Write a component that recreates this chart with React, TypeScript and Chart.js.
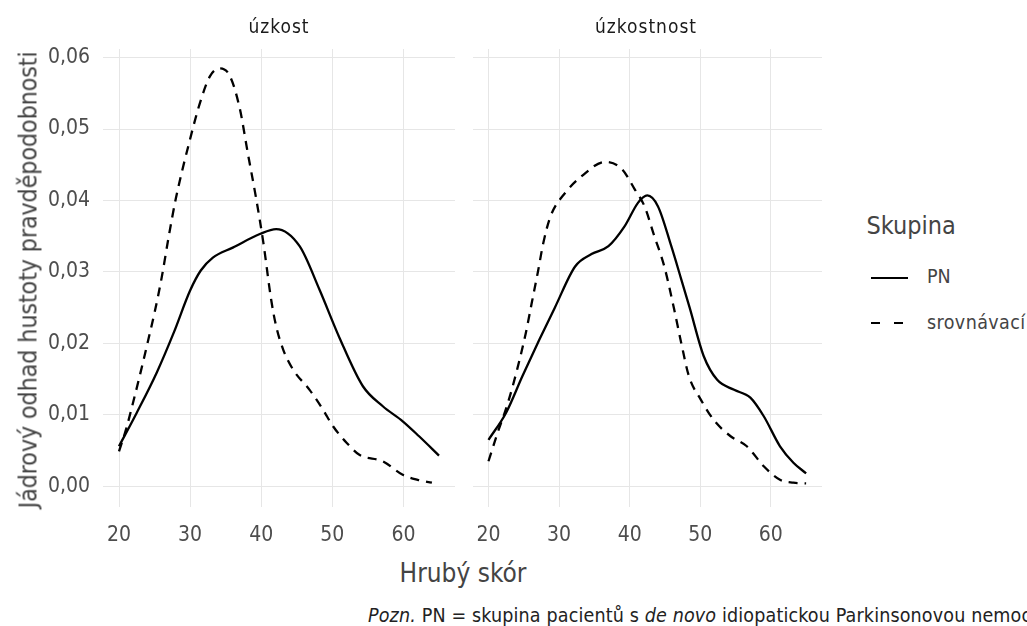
import React, { useEffect, useRef } from "react";
import { Chart, registerables } from "chart.js";

Chart.register(...registerables);

const FONT = "'Liberation Sans Narrow', 'DejaVu Sans Condensed', 'Roboto', sans-serif";

// ---- data ----
const xTicks = [20, 30, 40, 50, 60];
const yTicks = [0, 0.01, 0.02, 0.03, 0.04, 0.05, 0.06];

const panelTitles = ["úzkost", "úzkostnost"];
const seriesNames = ["PN", "srovnávací"];

// úzkost – PN
const uzPNx = [20, 22.5, 25.3, 27.7, 30.0, 31.5, 33.2, 36.0, 39.8, 42.1, 45.4, 48.2, 51.0, 54.3, 57.1, 59.9, 62.2, 65];
const uzPNy = [0.0056, 0.0103, 0.0159, 0.0215, 0.0274, 0.0302, 0.0320, 0.0334, 0.0353, 0.0360, 0.0336, 0.0275, 0.0208, 0.0140, 0.0112, 0.0091, 0.0070, 0.0043];
// úzkost – srovnávací
const uzSRx = [20, 21, 22, 23, 24, 25, 26, 27, 28, 30.0, 31.4, 32.8, 34.2, 35.6, 37.0, 38.1, 39.3, 40.3, 41.4, 42.1, 43.1, 44.5, 46.8, 48.7, 50.1, 52.0, 53.8, 57.1, 59.9, 62.0, 64.0];
const uzSRy = [0.0049, 0.0080, 0.0118, 0.0158, 0.0200, 0.0243, 0.0292, 0.0350, 0.0403, 0.0486, 0.0537, 0.0574, 0.0585, 0.0574, 0.0528, 0.0467, 0.0402, 0.0341, 0.0261, 0.0224, 0.0191, 0.0163, 0.0135, 0.0107, 0.0084, 0.0061, 0.0044, 0.0035, 0.0016, 0.0009, 0.0005];
// úzkostnost – PN
const uznPNx = [20, 22.5, 24.8, 27.2, 29.4, 32.3, 34.6, 37.0, 39.3, 41.2, 42.5, 44.0, 45.9, 47.3, 48.5, 50.5, 52.4, 54.8, 57.1, 59.0, 61.3, 63.2, 65];
const uznPNy = [0.0065, 0.0103, 0.0154, 0.0205, 0.0250, 0.0308, 0.0325, 0.0336, 0.0364, 0.0397, 0.0407, 0.0392, 0.0336, 0.0290, 0.0250, 0.0182, 0.0149, 0.0135, 0.0124, 0.0098, 0.0056, 0.0033, 0.0018];
// úzkostnost – srovnávací
const uznSRx = [20, 21.3, 22.7, 24.1, 25.3, 26.1, 27.0, 27.8, 28.8, 30.9, 33.2, 36.5, 38.9, 40.7, 42.1, 43.5, 44.9, 46.3, 47.3, 48.4, 50.1, 51.9, 54.3, 56.6, 59.0, 61.3, 63.2, 65];
const uznSRy = [0.0035, 0.0075, 0.0115, 0.0165, 0.0215, 0.0255, 0.0300, 0.0342, 0.0378, 0.0411, 0.0434, 0.0454, 0.0444, 0.0416, 0.0392, 0.0350, 0.0308, 0.0248, 0.0201, 0.0154, 0.0121, 0.0093, 0.0070, 0.0056, 0.0028, 0.0009, 0.0005, 0.0004];

const TICK_COLOR = "#4d4d4d";
const GRID_COLOR = "#e6e6e6";

function pts(xs: number[], ys: number[]) {
  return xs.map((x, i) => ({ x, y: ys[i] }));
}

function makeConfig(
  pn: { x: number; y: number }[],
  sr: { x: number; y: number }[],
  showY: boolean
): any {
  return {
    type: "line",
    data: {
      datasets: [
        {
          label: seriesNames[0],
          data: pn,
          borderColor: "#000",
          borderWidth: 2.3,
          pointRadius: 0,
          fill: false,
          cubicInterpolationMode: "monotone",
        },
        {
          label: seriesNames[1],
          data: sr,
          borderColor: "#000",
          borderWidth: 2.3,
          borderDash: [9, 7],
          pointRadius: 0,
          fill: false,
          cubicInterpolationMode: "monotone",
        },
      ],
    },
    options: {
      responsive: false,
      animation: false,
      devicePixelRatio: 1,
      layout: { padding: { top: 49, right: showY ? 5 : 0, left: 0, bottom: 0 } },
      plugins: { legend: { display: false }, tooltip: { enabled: false }, title: { display: false } },
      scales: {
        x: {
          type: "linear",
          min: 17.75,
          max: 67.25,
          afterBuildTicks: (s: any) => {
            s.ticks = xTicks.map((v) => ({ value: v }));
          },
          afterFit: (s: any) => {
            s.height = 39;
          },
          grid: { color: GRID_COLOR, lineWidth: 1, drawTicks: false },
          border: { display: false },
          ticks: {
            color: TICK_COLOR,
            font: { family: FONT, size: 21 },
            padding: 16,
            maxRotation: 0,
            autoSkip: false,
            callback: (v: any) => String(v),
          },
        },
        y: {
          type: "linear",
          min: -0.0029,
          max: 0.0612,
          afterBuildTicks: (s: any) => {
            s.ticks = yTicks.map((v) => ({ value: v }));
          },
          afterFit: (s: any) => {
            s.width = showY ? 103 : 10;
          },
          grid: { color: GRID_COLOR, lineWidth: 1, drawTicks: false },
          border: { display: false },
          ticks: {
            display: showY,
            color: TICK_COLOR,
            font: { family: FONT, size: 21 },
            padding: 13,
            autoSkip: false,
            callback: (v: any) => Number(v).toFixed(2).replace(".", ","),
          },
        },
      },
    },
  };
}

function Txt(props: {
  x: number;
  base: number;
  size: number;
  color?: string;
  align?: "left" | "center";
  italic?: boolean;
  spacing?: number;
  children: React.ReactNode;
}) {
  const { x, base, size, color, align, italic, spacing, children } = props;
  return (
    <div
      style={{
        position: "absolute",
        left: x,
        top: base - 0.8465 * size,
        fontFamily: FONT,
        fontSize: size,
        lineHeight: 1,
        whiteSpace: "nowrap",
        color: color || "#444",
        fontStyle: italic ? "italic" : "normal",
        letterSpacing: spacing ? spacing : 0,
        transform: align === "center" ? "translateX(-50%)" : undefined,
      }}
    >
      {children}
    </div>
  );
}

export default function App() {
  const c1 = useRef<HTMLCanvasElement>(null);
  const c2 = useRef<HTMLCanvasElement>(null);

  useEffect(() => {
    const ch1 = new Chart(c1.current!, makeConfig(pts(uzPNx, uzPNy), pts(uzSRx, uzSRy), true));
    const ch2 = new Chart(c2.current!, makeConfig(pts(uznPNx, uznPNy), pts(uznSRx, uznSRy), false));
    return () => {
      ch1.destroy();
      ch2.destroy();
    };
  }, []);

  return (
    <div
      style={{
        position: "absolute",
        left: 0,
        top: 0,
        width: 1027,
        height: 626,
        overflow: "hidden",
        background: "#fff",
      }}
    >
      <canvas ref={c1} width={460} height={546} style={{ position: "absolute", left: 0, top: 0 }} />
      <canvas ref={c2} width={362} height={546} style={{ position: "absolute", left: 460, top: 0 }} />

      <Txt x={279} base={33} size={19} color="#1a1a1a" align="center" spacing={1}>
        {panelTitles[0]}
      </Txt>
      <Txt x={646} base={33} size={19} color="#1a1a1a" align="center" spacing={1}>
        {panelTitles[1]}
      </Txt>

      <div style={{ position: "absolute", left: 28, top: 280, width: 0, height: 0 }}>
        <div
          style={{
            position: "absolute",
            left: 0,
            top: 0,
            transform: "translate(-50%, -50%) rotate(-90deg)",
            fontFamily: FONT,
            fontSize: 25,
            letterSpacing: -0.2,
            lineHeight: 1,
            whiteSpace: "nowrap",
            color: "#444",
          }}
        >
          Jádrový odhad hustoty pravděpodobnosti
        </div>
      </div>

      <Txt x={463} base={581.7} size={26} align="center">
        Hrubý skór
      </Txt>

      <Txt x={866.5} base={234} size={25}>
        Skupina
      </Txt>
      <div style={{ position: "absolute", left: 870.7, top: 276.6, width: 37, height: 2.3, background: "#000" }} />
      <Txt x={927} base={283.3} size={19.5}>
        {seriesNames[0]}
      </Txt>
      <div style={{ position: "absolute", left: 870.7, top: 322.2, width: 9.3, height: 2.3, background: "#000" }} />
      <div style={{ position: "absolute", left: 894, top: 322.2, width: 9.3, height: 2.3, background: "#000" }} />
      <Txt x={927} base={330} size={19.5} spacing={0.4}>
        {seriesNames[1]}
      </Txt>

      <Txt x={368} base={622.7} size={19.5} color="#222" spacing={0.15}>
        <i>Pozn.</i> PN = skupina pacientů s <i>de novo</i> idiopatickou Parkinsonovou nemocí
      </Txt>
    </div>
  );
}
